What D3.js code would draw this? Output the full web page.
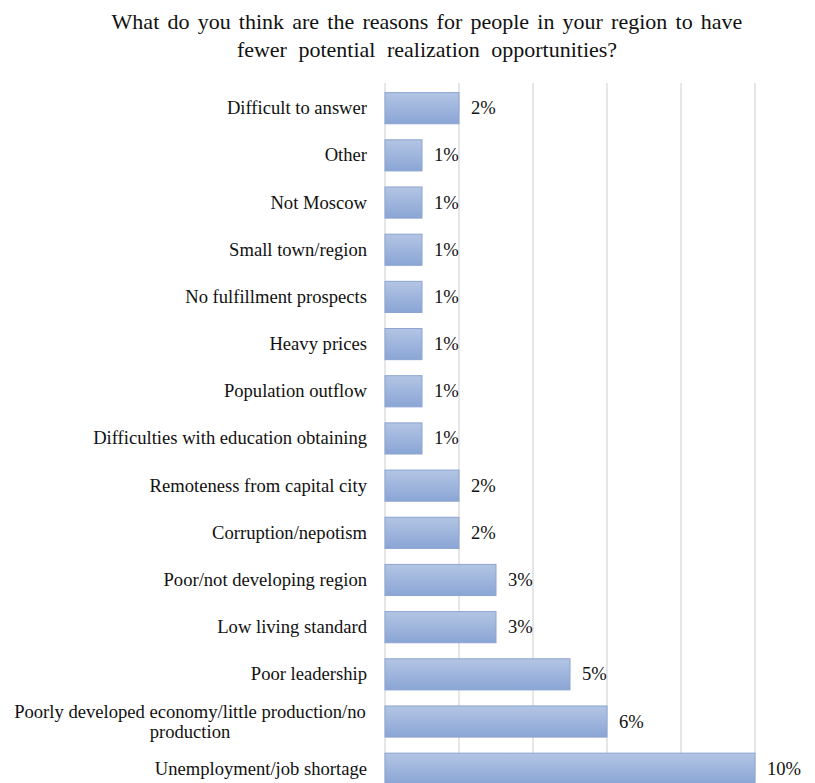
<!DOCTYPE html>
<html><head><meta charset="utf-8">
<script src="https://cdn.jsdelivr.net/npm/d3@7"></script>
<style>body{margin:0;background:#fff}svg{display:block}</style>
</head><body>
<script>
const categories = [
  "Difficult to answer",
  "Other",
  "Not Moscow",
  "Small town/region",
  "No fulfillment prospects",
  "Heavy prices",
  "Population outflow",
  "Difficulties with education obtaining",
  "Remoteness from capital city",
  "Corruption/nepotism",
  "Poor/not developing region",
  "Low living standard",
  "Poor leadership",
  "Poorly developed economy/little production/no production",
  "Unemployment/job shortage"
];
const values = [2,1,1,1,1,1,1,1,2,2,3,3,5,6,10];
const gridTicks = [0,2,4,6,8,10];
const titleLines = ["What do you think are the reasons for people in your region to have","fewer potential realization opportunities?"];
const labelLines = {
  "Poorly developed economy/little production/no production": ["Poorly developed economy/little production/no","production"]
};

const W = 815, H = 783;
const svg = d3.select("body").append("svg").attr("width", W).attr("height", H);
const defs = svg.append("defs");
const grad = defs.append("linearGradient").attr("id","barGrad").attr("x1",0).attr("y1",0).attr("x2",0).attr("y2",1);
grad.append("stop").attr("offset","0%").attr("stop-color","#b3c5e4");
grad.append("stop").attr("offset","100%").attr("stop-color","#8aa5d5");

const x = d3.scaleLinear().domain([0,10]).range([385,755]);
const y = d3.scaleBand().domain(categories).range([84.6, 792.3]).paddingInner(0.34).paddingOuter(0.17);

const font = "'Liberation Serif','Times New Roman',serif";
const fs = 18.6;
const titleSpacing = [2.7, 6];

// title
svg.append("g").selectAll("text").data(titleLines).join("text")
  .attr("x", 427).attr("y", (d,i)=>29 + i*28)
  .attr("text-anchor","middle")
  .attr("font-family", font).attr("font-size", 22).attr("fill","#111")
  .attr("word-spacing", (d,i)=>titleSpacing[i] + "px")
  .text(d=>d);

// gridlines
svg.append("g").selectAll("line").data(gridTicks).join("line")
  .attr("x1", d=>x(d)).attr("x2", d=>x(d))
  .attr("y1", 83).attr("y2", 792)
  .attr("stroke", "#d9d9d9").attr("stroke-width", 1.3);

// bars
svg.append("g").selectAll("rect").data(categories).join("rect")
  .attr("x", x(0)).attr("y", d=>y(d))
  .attr("width", (d,i)=>x(values[i]) - x(0))
  .attr("height", y.bandwidth())
  .attr("fill", "url(#barGrad)")
  .attr("stroke", "#8ca4d0").attr("stroke-width", 1);

// category labels
const lg = svg.append("g");
categories.forEach(c => {
  const lines = labelLines[c] || [c];
  const cy = y(c) + y.bandwidth()/2;
  const t = lg.append("text")
    .attr("font-family", font).attr("font-size", fs).attr("fill","#111")
    .attr("text-anchor", lines.length > 1 ? "middle" : "end");
  lines.forEach((ln, j) => {
    const lx = lines.length > 1 ? 190 : 367;
    t.append("tspan").attr("x", lx)
      .attr("y", cy + 6 + (j - (lines.length-1)/2) * 20)
      .text(ln);
  });
});

// value labels
svg.append("g").selectAll("text").data(categories).join("text")
  .attr("x", (d,i)=>x(values[i]) + 12)
  .attr("y", d=>y(d) + y.bandwidth()/2 + 6)
  .attr("font-family", font).attr("font-size", fs).attr("fill","#111")
  .text((d,i)=>values[i] + "%");
</script>
</body></html>
